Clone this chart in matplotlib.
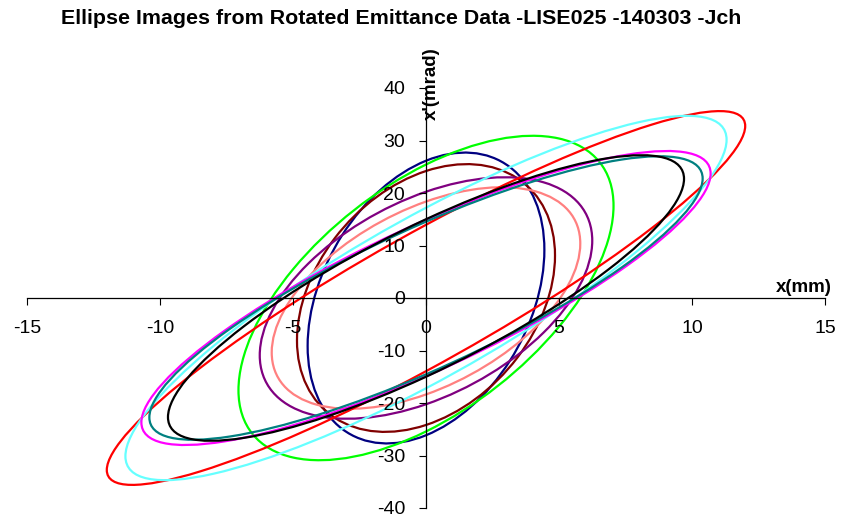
import numpy as np
import matplotlib.pyplot as plt
from matplotlib.patches import Circle
from matplotlib.transforms import Affine2D

plt.rcParams['font.family'] = ['Liberation Sans', 'DejaVu Sans']
plt.rcParams['axes.unicode_minus'] = False

# ellipse data (centred on origin)
# x_max   : largest x (mm)
# xp_max  : largest x' (mrad)
# x_cross : x where the ellipse crosses x' = 0
colors = ['#000080', '#800000', '#800080', '#FF8080', '#00FF00',
          '#FF0000', '#66FFFF', '#FF00FF', '#008080', '#000000']
x_max = [4.45, 4.85, 6.25, 5.8, 7.05, 12.0, 11.3, 10.7, 10.4, 9.7]
xp_max = [27.7, 25.5, 23.0, 21.1, 30.9, 35.6, 34.7, 28.0, 27.0, 27.2]
x_cross = [4.2, 4.6, 5.5, 5.05, 5.8, 4.7, 5.6, 5.7, 5.6, 5.35]

x_ticks = [-15, -10, -5, 0, 5, 10, 15]
y_ticks = [-40, -30, -20, -10, 0, 10, 20, 30, 40]

fig = plt.figure(figsize=(8.45, 5.18), dpi=100)
ax = fig.add_axes([27 / 845, 1 - 508 / 518, (825 - 27) / 845, (508 - 88) / 518])

for c, a, b, xc in zip(colors, x_max, xp_max, x_cross):
    s = xc / a
    m = np.array([[a, 0, 0], [b * np.sqrt(1 - s * s), b * s, 0], [0, 0, 1]])
    circ = Circle((0, 0), 1, fill=False, edgecolor=c, lw=1.6,
                  transform=Affine2D(m) + ax.transData)
    ax.add_patch(circ)

ax.set_xlim(-15, 15)
ax.set_ylim(-40, 40)
ax.spines['left'].set_position(('data', 0))
ax.spines['bottom'].set_position(('data', 0))
ax.spines['top'].set_visible(False)
ax.spines['right'].set_visible(False)
for sp in ('left', 'bottom'):
    ax.spines[sp].set_linewidth(0.9)
ax.set_xticks(x_ticks)
ax.set_yticks(y_ticks)
ax.tick_params(axis='x', direction='out', length=5, pad=11, labelsize=14)
ax.tick_params(axis='y', direction='out', length=5, pad=10, labelsize=14)

ax.text(0.2, 40.8, "x'(mrad)", rotation=90, ha='center', va='center',
        fontsize=13.5, fontweight='bold', clip_on=False)
ax.text(14.2, 0.3, 'x(mm)', ha='center', va='bottom', fontsize=13.5,
        fontweight='bold', clip_on=False)

fig.text(401 / 845, 1 - 18 / 518,
         'Ellipse Images from Rotated Emittance Data -LISE025 -140303 -Jch',
         ha='center', va='center', fontsize=15.4, fontweight='bold')

fig.savefig('out.png', dpi=100)
